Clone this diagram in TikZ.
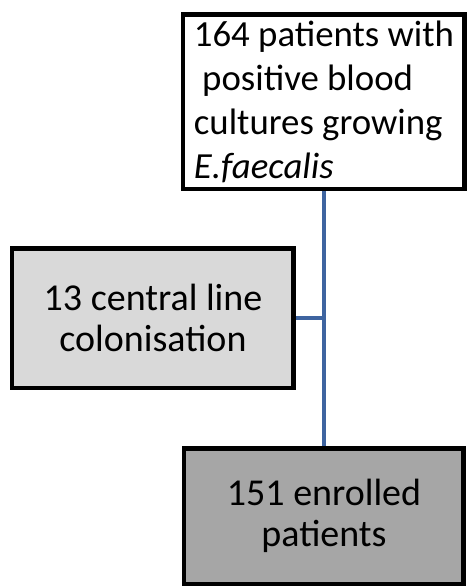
\documentclass[tikz,border=0pt]{standalone}
\usepackage{fontspec}
\setmainfont{Carlito}
\usepackage{tikz}
\definecolor{linkblue}{RGB}{62,100,160}
\definecolor{lightgrey}{RGB}{217,217,217}
\definecolor{darkgrey}{RGB}{166,166,166}
\tikzset{
  flowbox/.style={rectangle,draw=black,line width=2.25pt,inner sep=0pt,
    font=\fontsize{19}{20.5}\selectfont,align=center},
  link/.style={draw=linkblue,line width=2.2pt}
}
\newcommand{\boxnode}{\node[flowbox]}

\begin{document}
\begin{tikzpicture}[x=0.5pt,y=-0.5pt]
          \useasboundingbox (0,0) rectangle (470,586);
          \boxnode[fill=white,minimum width=140.75pt,minimum height=87.25pt,
            font=\fontsize{18.4}{22}\selectfont,align=left] (blood) at (324,101.5)
            {164 patients with\\\ positive blood\\cultures growing\\\textit{E.faecalis}}; %
          \boxnode[fill=lightgrey,minimum width=140.75pt,minimum height=69.75pt] (colon) at (153,318)
            {13 central line\\colonisation}; %
          \boxnode[fill=darkgrey,minimum width=139.75pt,minimum height=67.75pt] (enrol) at (324,516)
            {151 enrolled\\patients}; %
          \coordinate (split) at (colon.east -| blood.south);
          \draw[link] (blood.south) -- (enrol.north);
          \draw[link] (colon.east) -- (split);
        \end{tikzpicture}
\end{document}
